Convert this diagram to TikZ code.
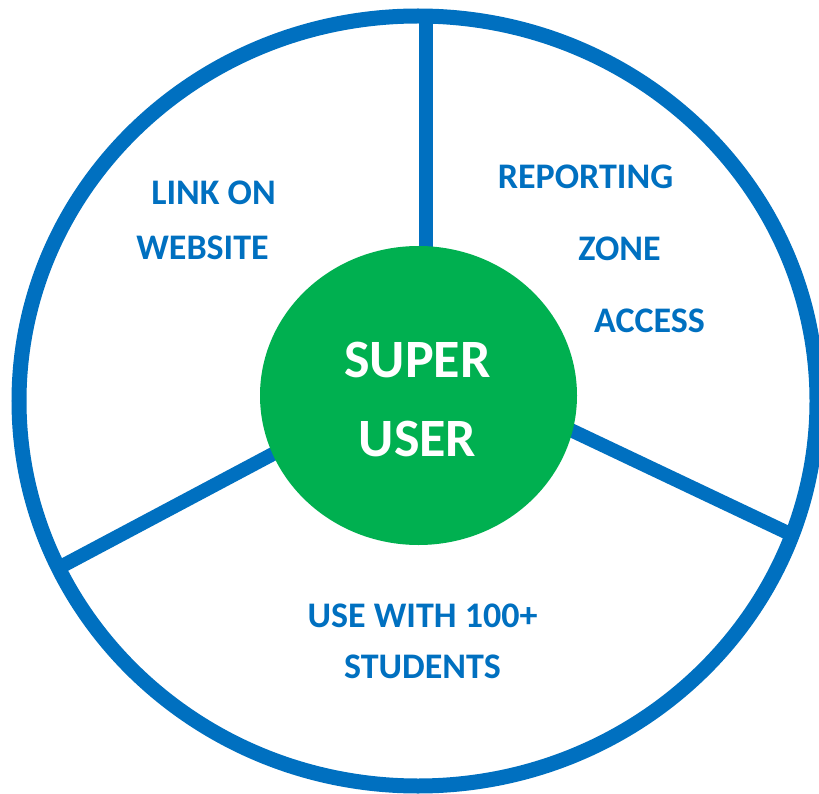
\documentclass[tikz,border=0pt]{standalone}
\usepackage{fontspec}
\setmainfont{Carlito}
\usetikzlibrary{shapes.geometric}
\definecolor{ringblue}{HTML}{0070C0}
\definecolor{supergreen}{HTML}{00B050}
\tikzset{
  ringline/.style={draw=ringblue, line width=15pt},
  spoke/.style={draw=ringblue, line width=14pt},
  label/.style={text=ringblue, font=\bfseries\fontsize{36}{36}\selectfont, anchor=base, inner sep=0pt},
  centrelabel/.style={text=white, font=\bfseries\fontsize{54}{54}\selectfont, anchor=base, inner sep=0pt}
}
\begin{document}
\begin{tikzpicture}[x=1pt,y=-1pt]
\useasboundingbox (0,0) rectangle (819,794);
\clip (0,0) rectangle (819,794);
\fill[white] (0,0) rectangle (819,794);
% outer ring
\draw[ringline] (418,401) ellipse [x radius=399, y radius=385];
% spoke ends
\coordinate (a1) at (426,300);
\coordinate (b1) at (426,16);
\coordinate (a2) at (520,406);
\coordinate (b2) at (788,533);
\coordinate (a3) at (320,429);
\coordinate (b3) at (64,565);
\draw[spoke] (a1) -- (b1);
\draw[spoke] (a2) -- (b2);
\draw[spoke] (a3) -- (b3);
% centre
\node[ellipse, fill=supergreen, minimum width=317pt, minimum height=299pt, inner sep=0pt] (su) at (418.5,395.5) {};
\node[centrelabel] (super) at (417.5,377) {SUPER};
\node[centrelabel] (user) at (417.5,456) {USER};
% labels
\node[label] (link) at (213.5,205) {LINK ON};
\node[label] (web) at (202.5,260) {WEBSITE};
\node[label] (rep) at (585.5,189) {REPORTING};
\node[label] (zone) at (619.5,261) {ZONE};
\node[label] (acc) at (649.5,332) {ACCESS};
\node[label] (use) at (422.5,627) {USE WITH 100+};
\node[label] (stu) at (422.5,678) {STUDENTS};
\end{tikzpicture}
\end{document}
